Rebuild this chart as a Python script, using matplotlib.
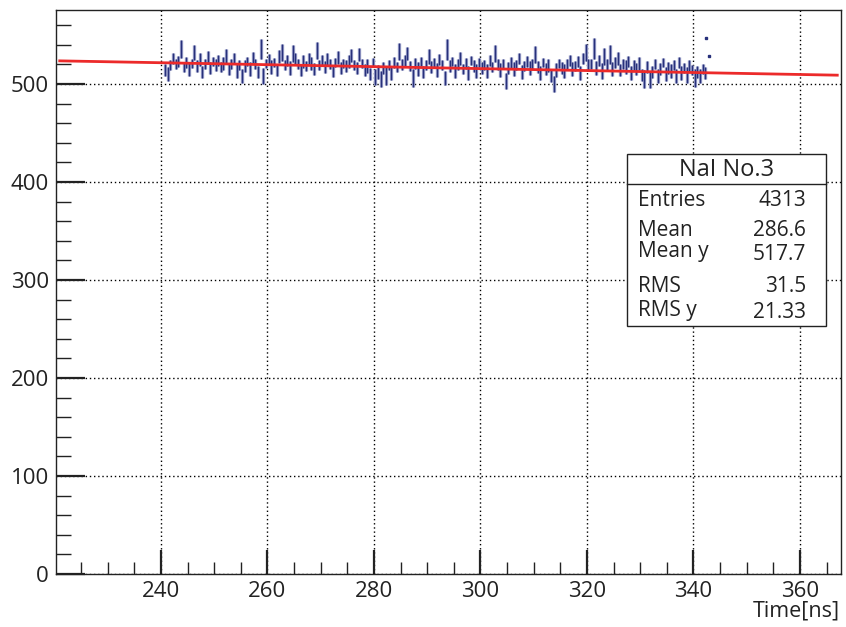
import matplotlib
matplotlib.use("Agg")
import matplotlib.pyplot as plt
from matplotlib.ticker import MultipleLocator
from matplotlib.patches import Rectangle
from matplotlib.lines import Line2D

plt.rcParams['font.family'] = ['Open Sans', 'DejaVu Sans']

# ---- data ----
bin_start = 240.75
bin_width = 0.5
y_values = [
    514, 510, 519, 526, 520, 523, 536, 517, 522, 515,
    521, 532, 518, 525, 512, 520, 527, 516, 523, 519,
    524, 517, 521, 528, 515, 520, 526, 513, 519, 508,
    518, 523, 515, 527, 520, 512, 536, 508, 521, 525,
    517, 522, 514, 528, 532, 519, 524, 516, 531, 526,
    520, 514, 523, 518, 526, 521, 515, 534, 519, 524,
    517, 525, 520, 513, 522, 527, 516, 521, 518, 523,
    529, 519, 516, 530, 521, 514, 518, 510, 522, 507,
    512, 505, 516, 508, 519, 511, 522, 517, 533, 520,
    524, 531, 518, 506, 521, 515, 523, 512, 519, 528,
    517, 522, 514, 525, 519, 506, 535, 518, 523, 513,
    520, 526, 515, 521, 511, 524, 518, 513, 522, 516,
    519, 513, 524, 517, 531, 520, 514, 521, 503, 516,
    522, 515, 519, 526, 512, 518, 523, 516, 520, 530,
    517, 511, 522, 515, 519, 508, 500, 514, 521, 516,
    513, 520, 524, 515, 518, 523, 511, 526, 532, 519,
    520, 536, 516, 524, 513, 528, 519, 530, 515, 522,
    526, 514, 520, 517, 523, 511, 519, 515, 521, 509,
    505, 517, 504, 512, 520, 508, 515, 522, 510, 516,
    513, 519, 508, 522, 511, 516, 509, 518, 514, 506,
    512, 508, 515, 511,
]
y_errors = [
    6, 7, 5, 6, 5, 6, 9, 5, 6, 7,
    5, 8, 6, 7, 6, 5, 7, 6, 5, 6,
    6, 5, 7, 8, 6, 5, 6, 7, 5, 7,
    6, 5, 7, 6, 5, 6, 10, 8, 5, 6,
    7, 5, 6, 7, 9, 5, 6, 7, 9, 6,
    5, 6, 7, 5, 6, 7, 6, 9, 5, 6,
    6, 7, 5, 6, 5, 7, 6, 5, 6, 7,
    7, 5, 6, 7, 5, 6, 7, 6, 5, 8,
    7, 8, 6, 9, 5, 7, 6, 5, 9, 6,
    6, 7, 5, 9, 6, 7, 5, 6, 5, 8,
    6, 5, 7, 6, 5, 7, 11, 6, 5, 7,
    6, 7, 5, 6, 7, 5, 6, 7, 5, 6,
    5, 7, 6, 5, 9, 6, 7, 5, 8, 6,
    6, 7, 5, 6, 7, 5, 6, 7, 5, 9,
    6, 7, 5, 6, 7, 6, 8, 7, 5, 6,
    7, 5, 6, 7, 5, 6, 7, 6, 9, 6,
    5, 11, 7, 6, 8, 9, 6, 10, 7, 6,
    7, 6, 5, 7, 6, 7, 5, 6, 7, 6,
    9, 6, 8, 6, 5, 7, 6, 5, 7, 6,
    7, 5, 7, 6, 7, 5, 8, 6, 5, 9,
    6, 7, 5, 6,
]
x_values = [bin_start + bin_width * i for i in range(len(y_values))]

# single-entry bins beyond the main band
extra_x = [342.35, 342.95]
extra_y = [547, 529]

# linear fit drawn as red line
fit_x = [221.0, 367.0]
fit_y = [523.6, 509.0]

x_ticks = [240, 260, 280, 300, 320, 340, 360]
y_ticks = [0, 100, 200, 300, 400, 500]

stats_title = "NaI No.3"
stats_names = ["Entries", "Mean", "Mean y", "RMS", "RMS y"]
stats_vals = ["4313", "286.6", "517.7", "31.5", "21.33"]

# ---- figure ----
W, H = 846, 627
fig = plt.figure(figsize=(W / 100, H / 100), dpi=100)
ax = fig.add_axes([56 / W, 1 - 574 / H, (841 - 56) / W, (574 - 10) / H])

# light fringe + dark core, like the reference's anti-aliased error bars
ax.errorbar(x_values, y_values, yerr=y_errors, fmt='none',
            ecolor='#9da2cc', elinewidth=2.4, zorder=3)
ax.errorbar(x_values, y_values, yerr=y_errors, fmt='none',
            ecolor='#27307a', elinewidth=1.0, zorder=3.5)
ax.plot(extra_x, extra_y, linestyle='none', marker='s', markersize=1.5,
        color='#27307a', zorder=3)
ax.plot(fit_x, fit_y, color='#ec2a2a', linewidth=2.0, zorder=4)

ax.set_xlim(220.3, 367.7)
ax.set_ylim(0, 575.5)
ax.set_xticks(x_ticks)
ax.set_yticks(y_ticks)
ax.xaxis.set_minor_locator(MultipleLocator(5))
ax.yaxis.set_minor_locator(MultipleLocator(20))
ax.tick_params(which='both', direction='in', top=False, right=False,
               labelsize=16, colors='#222222')
ax.tick_params(axis='y', which='major', length=21, width=1.6, pad=5)
ax.tick_params(axis='y', which='minor', length=11, width=1.0)
ax.tick_params(axis='x', which='major', length=17, width=1.6, pad=5)
ax.tick_params(axis='x', which='minor', length=9, width=1.0)
ax.grid(True, which='major', color='black', linestyle=(0, (1, 2)), linewidth=1.0)
for s in ax.spines.values():
    s.set_linewidth(1.0)
    s.set_color('#222222')

fig.text(840 / W, 1 - 601 / H, "Time[ns]", ha='right', va='top',
         fontsize=15.5, color='#222222')

# ---- stats box ----
bx0, bx1, by0, by1, bsep = 627, 826, 154, 326, 184
fig.patches.append(Rectangle((bx0 / W, 1 - by1 / H), (bx1 - bx0) / W, (by1 - by0) / H,
                             transform=fig.transFigure, facecolor='white',
                             edgecolor='#222222', linewidth=1.0, zorder=10))
fig.lines.append(Line2D([bx0 / W, bx1 / W], [1 - bsep / H, 1 - bsep / H],
                        transform=fig.transFigure, color='#222222', linewidth=1.0,
                        zorder=11))
fig.text((bx0 + bx1) / 2 / W, 1 - 170 / H, stats_title, ha='center', va='center',
         fontsize=17, color='#222222', zorder=12)
name_y = [200, 230, 251, 287, 310]
val_y = [201, 231, 254, 287, 313]
for n, v, yn, yv in zip(stats_names, stats_vals, name_y, val_y):
    fig.text(638 / W, 1 - yn / H, n, ha='left', va='center', fontsize=15,
             color='#222222', zorder=12)
    fig.text(806 / W, 1 - yv / H, v, ha='right', va='center', fontsize=15,
             color='#222222', zorder=12)

fig.savefig("out.png", dpi=100)
